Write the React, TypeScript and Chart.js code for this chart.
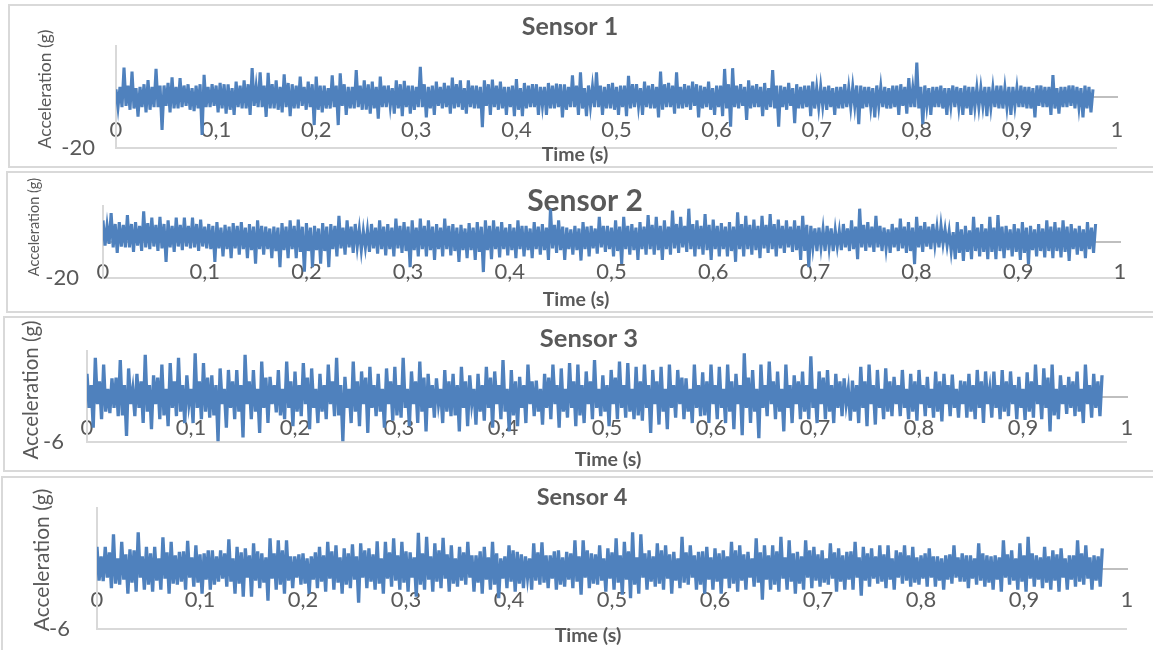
import { useEffect, useRef } from "react";
import { Chart, registerables } from "chart.js";

Chart.register(...registerables);

// ---------------- data ----------------
// Each cycle of SAMPLE_STEP*4 seconds: peak, core low, core high, trough.
const SAMPLE_STEP = 0.002; // seconds between plotted samples
const X_MIN = 0;
const X_MAX = 1;
const X_TICK_STEP = 0.1;

const panelTitles = ["Sensor 1", "Sensor 2", "Sensor 3", "Sensor 4"];
const xAxisTitle = "Time (s)";
const yAxisTitle = "Acceleration (g)";
const yLimits = [20, 20, 6, 6];

// ---- Sensor 1 (g) ----
const sensor1Peaks = [
  3, 11.5, 10, 4, 6.6, 11, 4.5, 7.7, 7.4, 5,
  4.5, 8.7, 5, 5.5, 5, 6, 6.5, 11.3, 9.7, 9.5,
  6.5, 8.9, 5, 8, 6, 8, 4.5, 8.5, 9.3, 4,
  10.6, 6.5, 6, 8, 4.5, 6.5, 6.3, 4.5, 11.8, 4,
  6, 5.5, 7.6, 6.5, 6.5, 4.5, 6.5, 6.8, 6, 4,
  7, 5.5, 5, 4, 5.5, 5.2, 5, 8.5, 9.7, 4.5,
  9.7, 4, 5.5, 4.5, 8.3, 5, 6, 5, 10, 5.5,
  9.7, 5, 6, 4.5, 6, 4.5, 11, 11.3, 5, 6.5,
  5, 5.5, 10.6, 4.5, 5.5, 5, 4.5, 6, 4, 4.5,
  4, 5, 4, 4.5, 4, 4.5, 4, 4.5, 5, 7.4,
  13.5, 4.5, 4, 4.5, 3.5, 4, 4.5, 4, 3.5, 4,
  4.5, 3.5, 4, 4.5, 4, 4.5, 4, 8.6, 4, 4.5,
  4, 4.5, 3,
];
const sensor1CoreLow = [
  -4, -3.5, -4.5, -4, -5, -4, -3.5, -4.5, -4, -5,
  -4.5, -4, -3.5, -4.5, -5, -4, -4.5, -3.5, -4, -4.5,
  -5, -4, -4.5, -3.5, -4, -5, -4.5, -4, -3.5, -4.5,
  -4, -5, -4.5, -4, -3.5, -4.5, -4, -5, -4, -4.5,
  -3.5, -4, -4.5, -5, -4, -4.5, -3.5, -4, -4.5, -4,
  -5, -4.5, -4, -3.5, -4.5, -4, -5, -4, -4.5, -3.5,
  -4, -4.5, -5, -4, -4.5, -3.5, -4, -4.5, -5, -4,
  -4.5, -4, -3.5, -4.5, -5, -4, -4.5, -4, -3.5, -4.5,
  -4, -5, -4.5, -4, -3.5, -4.5, -4, -4.5, -3.5, -4,
  -4.5, -4, -3.5, -4.5, -4, -3.5, -4.5, -4, -3.5, -4,
  -4.5, -3.5, -4, -4.5, -3.5, -4, -4.5, -4, -3.5, -4,
  -4.5, -4, -3.5, -4, -4.5, -3.5, -4, -4.5, -4, -3.5,
  -4, -4.5,
];
const sensor1CoreHigh = [
  4, 4.5, 3.5, 5, 4, 4.5, 5.5, 4, 4.5, 3.5,
  5, 4, 4.5, 5, 3.5, 4.5, 5, 4, 4.5, 5,
  4, 5.5, 4.5, 4, 5, 4.5, 3.5, 4.5, 5, 4,
  4.5, 5, 4, 4.5, 3.5, 5, 4.5, 4, 5, 4.5,
  4, 4.5, 5, 3.5, 4.5, 4, 5, 4.5, 4, 4.5,
  3.5, 4.5, 5, 4, 4.5, 5, 4, 4.5, 3.5, 4,
  4.5, 5, 4, 4.5, 5, 3.5, 4.5, 4, 5, 4.5,
  4, 4.5, 5, 4, 3.5, 4.5, 5, 4.5, 4, 4.5,
  4, 3.5, 4.5, 4, 3.5, 4, 4.5, 3.5, 4, 3.5,
  4, 3.5, 4.5, 4, 3.5, 4, 3.5, 4.5, 4, 3.5,
  4, 3.5, 4, 3.5, 4.5, 3.5, 4, 3.5, 4, 3.5,
  4.5, 4, 3.5, 4, 3.5, 4.5, 4, 3.5, 4, 4.5,
  3.5, 4,
];
const sensor1Troughs = [
  -4, -5, -7.7, -6, -4, -12.9, -6, -4.5, -3.5, -5.5,
  -14.9, -4, -6, -6.5, -7, -4.5, -7, -4, -7.8, -4.5,
  -6, -7.5, -4.5, -5, -11, -6, -4.5, -11, -7, -4.5,
  -5, -6.5, -8.5, -4, -6.5, -7.5, -6.5, -4, -8, -7,
  -4.5, -6.5, -4, -6.5, -4.5, -11.8, -7, -5, -7, -7.5,
  -7.5, -4, -7, -7, -4.5, -8, -4, -7, -7.5, -4,
  -7, -4.5, -7, -7.5, -4, -7, -4.5, -8, -4, -6.5,
  -4.5, -5, -8, -4, -7, -7.5, -11.6, -4.5, -9, -4,
  -7.5, -4, -11.6, -5, -10.3, -4.5, -7.5, -4, -5, -7,
  -4.5, -4, -10.7, -4, -8, -4, -4.5, -7, -6.5, -4,
  -10.7, -7, -4, -7, -4, -7, -7, -4, -7.5, -4,
  -4.5, -7, -4, -4.5, -8, -4, -7, -6.5, -4, -4.5,
  -8, -6,
];

// ---- Sensor 2 (g) ----
const sensor2Peaks = [
  12, 16, 11, 15, 11, 17, 13.5, 14, 12, 13.5,
  13.5, 13.5, 12.5, 10, 11, 9.5, 10.5, 11, 10, 12,
  8.5, 8.5, 10.5, 12, 12.5, 10.5, 9, 10.5, 10, 14.5,
  12, 10, 6, 10, 12, 10, 13, 11, 12, 13,
  12, 10, 13, 10, 9.5, 10.5, 11, 12, 12, 11,
  10, 12, 9, 11, 10, 18.5, 12, 8, 9, 11,
  9, 14, 9, 12, 14, 10, 11, 15, 14, 12,
  17.5, 14, 18.5, 12, 15.5, 12.5, 10.5, 11, 16.5, 14.5,
  12.5, 14.5, 15.5, 12.5, 12, 12, 14.5, 9, 8, 9,
  6.5, 10, 12, 18.5, 11, 14.5, 8, 10, 13, 11,
  14, 11, 10, 9, 6, 11, 9, 14, 10, 14,
  15, 9, 10, 11, 9, 10, 12, 11, 12, 10,
  9, 11, 10,
];
const sensor2CoreLow = [
  -2, -3, -2.5, -3, -2, -3, -2.5, -3.5, -3, -2.5,
  -2.5, -3, -2.5, -4, -3.5, -4, -3.5, -4, -4.5, -4,
  -4, -5, -4.5, -4, -5.5, -5, -4.5, -5, -4, -3.5,
  -3, -2.5, -3, -3.5, -4, -4, -3.5, -5, -4.5, -4,
  -4.5, -4, -4, -5, -4.5, -4.5, -5.5, -4.5, -4, -4,
  -4.5, -4, -4.5, -4, -4.5, -3.5, -4.5, -4, -4.5, -4,
  -3.5, -3, -4, -5, -4, -4.5, -4, -4, -4.5, -4,
  -3.5, -3, -4, -4, -4.5, -4, -4, -5, -4, -4,
  -4.5, -3.5, -4, -3.5, -3, -4.5, -5, -3, -3, -3,
  -2.5, -3, -4, -3, -3, -3, -3.5, -3, -3.5, -5,
  -3, -2.5, -1.5, -1, -5, -6, -5.5, -5, -5.5, -5.5,
  -5, -4.5, -5.5, -6, -4.5, -5, -5, -5, -5.5, -4,
  -5, -4,
];
const sensor2CoreHigh = [
  9, 10, 9.5, 10, 9, 10.5, 9.5, 10, 9, 9.5,
  9, 10, 8.5, 9, 8, 8.5, 9, 8, 8.5, 9,
  7.5, 8, 8.5, 9, 8.5, 8, 7.5, 8.5, 9, 8,
  8.5, 7, 6.5, 8, 8.5, 8, 9, 8.5, 8, 9,
  8.5, 8, 9, 8, 7.5, 8, 8.5, 9, 8.5, 8,
  8, 9, 7.5, 8.5, 8, 9.5, 8.5, 7, 7.5, 8.5,
  7.5, 9, 8, 8.5, 9, 8, 8.5, 9.5, 9, 8.5,
  10, 9, 10, 9, 9.5, 9, 8.5, 8.5, 10, 9.5,
  9, 9.5, 10, 9, 8.5, 9, 9.5, 7.5, 7, 7.5,
  6, 7.5, 8.5, 9.5, 8.5, 9, 7, 8, 8.5, 8,
  9, 8.5, 8, 7, 5.5, 7, 6.5, 8, 7.5, 8,
  8.5, 7, 7.5, 8, 7, 7.5, 8.5, 8, 8.5, 7.5,
  7, 8,
];
const sensor2Troughs = [
  -1, -6, -3, -5.5, -5, -4, -5, -11, -5.5, -4.5,
  -3.5, -5, -3.5, -11, -8, -9, -7, -9, -12, -7,
  -9, -14, -9, -9, -16.5, -14, -12, -14, -8, -7,
  -6, -4.5, -5.5, -6.5, -7.5, -8, -6, -14, -8, -8,
  -10, -8, -7.5, -11, -9, -10, -16.7, -9.5, -8.5, -7.5,
  -9, -8, -9, -7, -10, -6, -10, -7, -10.3, -8,
  -6.5, -5.5, -8, -12.2, -7, -10, -7, -7, -10, -7,
  -6, -5.5, -8, -7, -10, -8, -8, -11, -8, -7,
  -9, -6, -8, -6, -5.5, -10, -14, -5, -5, -5,
  -4.5, -5, -9.5, -5, -5.5, -5, -6, -5, -6, -12.3,
  -5.5, -4, -3, -2, -9.5, -10.5, -9.5, -8, -9.5, -9.5,
  -9, -8, -10, -12.3, -8, -8.5, -9, -8.5, -10.5, -7,
  -9, -6,
];

// ---- Sensor 3 (g) ----
const sensor3Peaks = [
  3, 5.1, 4.2, 2.4, 4.8, 3.7, 3, 5.5, 2.8, 4.2,
  4.4, 5.1, 2.8, 5.7, 4.4, 2.8, 3.7, 3.5, 3.5, 5.5,
  3.5, 4.6, 2.6, 3.5, 4.6, 3.3, 4.4, 3.7, 3, 4.2,
  5.1, 2.6, 4.6, 3.3, 3.9, 3, 3.7, 3.9, 5.1, 3.3,
  4.6, 3, 2.4, 3.5, 3, 3.9, 2.8, 3, 3.9, 3.3,
  4.8, 3.5, 2.6, 4.2, 2.1, 3, 4.2, 3.7, 4.4, 4.2,
  3.3, 4.8, 2.8, 3.5, 4.6, 4.4, 3.9, 4.2, 3.5, 3.9,
  4.2, 3.5, 2.4, 4.2, 3.2, 4.2, 3.9, 4.2, 3, 5.7,
  3.5, 4.2, 4.6, 3.3, 4.2, 2.8, 3.3, 5.3, 3.3, 3.5,
  3, 2.4, 2.1, 3.9, 4.2, 3.5, 3.7, 2.6, 3.5, 3,
  3.5, 2.6, 3.3, 3, 2.9, 2.1, 3, 3.5, 3.3, 3.3,
  3.5, 3.3, 2.6, 3.2, 4.2, 3.7, 4.2, 2.8, 2.6, 3.3,
  4.2, 3, 2.8,
];
const sensor3CoreLow = [
  -1.5, -1, -2, -1.5, -2.5, -1, -1.5, -2, -1, -2.5,
  -1.5, -2, -1, -1.5, -2, -2.5, -1, -1.5, -2, -1,
  -2, -1.5, -1, -2.5, -1.5, -2, -1, -1.5, -2, -1,
  -2.5, -1.5, -2, -1, -1.5, -2, -1, -2.5, -1.5, -1,
  -2, -1.5, -1, -2, -2.5, -1.5, -1, -2, -1.5, -1,
  -2, -2.5, -1.5, -1, -2, -1.5, -1, -2, -1.5, -2.5,
  -1, -1.5, -2, -1, -1.5, -2, -2.5, -1.5, -1, -2,
  -1.5, -1, -2, -1.5, -2.5, -1, -1.5, -2, -1, -1.5,
  -2, -1.5, -1, -2, -1.5, -1, -2, -1.5, -1, -2,
  -1.5, -1, -2, -1.5, -1, -1.5, -2, -1, -1.5, -2,
  -1, -1.5, -2, -1, -1.5, -1, -2, -1.5, -1, -1.5,
  -2, -1, -1.5, -2, -1, -1.5, -2.5, -1, -1.5, -2,
  -1, -1.5,
];
const sensor3CoreHigh = [
  1.5, 2, 1, 2.5, 1.5, 1, 2, 1.5, 2.5, 1,
  2, 1.5, 1, 2, 2.5, 1.5, 1, 2, 1.5, 2,
  1, 2.5, 1.5, 1, 2, 1.5, 2.5, 1, 1.5, 2,
  1.5, 1, 2, 2.5, 1.5, 1, 2, 1.5, 1, 2,
  2.5, 1.5, 1, 2, 1.5, 2, 1, 1.5, 2.5, 1.5,
  1, 2, 1.5, 2, 1, 2.5, 1.5, 1, 2, 1.5,
  2, 1, 1.5, 2.5, 1.5, 1, 2, 1.5, 2, 1,
  1.5, 2.5, 1, 1.5, 2, 1.5, 1, 2, 1.5, 2.5,
  1, 1.5, 2, 1, 1.5, 2, 1.5, 1, 2.5, 1.5,
  2, 1, 1.5, 2, 1.5, 1, 2, 1.5, 1, 2,
  1.5, 1, 2, 1.5, 1, 2, 1.5, 2, 1, 1.5,
  2, 1.5, 1, 2, 1.5, 2.5, 1, 1.5, 2, 1,
  1.5, 2,
];
const sensor3Troughs = [
  -4.1, -3, -2.2, -2.6, -5.2, -2.6, -3.5, -4.3, -3, -3.9,
  -2.6, -3.5, -3.5, -3, -2.8, -5.9, -4.1, -3, -5.4, -3,
  -4.8, -3.5, -2.1, -3, -3.9, -2.6, -4.3, -3.5, -3, -2.6,
  -5.9, -3.5, -3.9, -4.8, -2.6, -4.1, -3.2, -2.8, -3.9, -3.5,
  -4.6, -2.8, -3.5, -2.6, -4.6, -3.9, -3.7, -3.2, -4.1, -3,
  -4.6, -3.9, -3.5, -2.6, -3.7, -3, -4.1, -2.8, -3.9, -3.5,
  -3, -2.6, -3.9, -3, -2.8, -3, -3.2, -4.8, -3.7, -4.3,
  -2.8, -3, -3.5, -2.6, -3.5, -3, -3.5, -4.3, -5.1, -3.5,
  -5.5, -2.6, -3, -4.6, -3.5, -3, -3, -3.5, -3, -3.5,
  -2.6, -3.2, -3.5, -3.9, -3.7, -3, -2.6, -2.6, -3, -3.2,
  -2.6, -2.8, -3.3, -2.6, -2.8, -2.8, -3, -3.5, -2.8, -3,
  -2.6, -3, -3.1, -2.8, -3, -4.6, -3, -2.3, -2.6, -3.5,
  -2.8, -2.6,
];

// ---- Sensor 4 (g) ----
const sensor4Peaks = [
  2.15, 2.15, 3.4, 2.65, 1.9, 3.6, 2.15, 2.15, 3.1, 2.65,
  1.65, 2.75, 2.3, 1.5, 1.8, 1.8, 2.9, 2.15, 2, 2.5,
  1.5, 3, 2.8, 2.8, 1.2, 1.5, 1.2, 2.15, 2.65, 2.3,
  2, 2.4, 2.5, 2, 2.7, 2.65, 3, 2.65, 1.6, 3.55,
  3.15, 2.5, 3.05, 2.3, 2.15, 2.65, 1.3, 2.15, 2.65, 1,
  2.3, 1.65, 1.2, 2.5, 2.6, 1.3, 1.8, 1.65, 2.8, 2.8,
  1.5, 2.3, 2, 3, 2.65, 3.6, 3.4, 1.8, 2.5, 2.3,
  1.65, 3.15, 2.3, 1.65, 2.15, 2, 1.8, 2.65, 2.3, 1.65,
  3, 2.3, 2.3, 3.15, 2.8, 1.65, 2.8, 2.15, 1.8, 2.5,
  2, 1.65, 2.65, 2.15, 2, 2.3, 2.3, 1.8, 2.3, 2.15,
  1.3, 2, 1.2, 1.3, 2.3, 1.5, 1.3, 2.5, 1.3, 1.3,
  2.8, 1.8, 2.5, 3.15, 1.3, 2.15, 1.8, 2, 1.3, 2.8,
  2.3, 1.3, 2,
];
const sensor4CoreLow = [
  -1.2, -0.9, -1.5, -1.1, -1.4, -0.9, -1.6, -1.2, -1, -1.5,
  -1.3, -0.9, -1.4, -1.1, -1.6, -1, -1.3, -1.5, -0.9, -1.2,
  -1.4, -1, -1.6, -1.2, -0.9, -1.5, -1.1, -1.3, -1, -1.4,
  -1.6, -1.1, -0.9, -1.3, -1.5, -1, -1.2, -1.4, -0.9, -1.6,
  -1.1, -1.3, -1, -1.5, -1.2, -0.9, -1.4, -1.1, -1.6, -1,
  -1.3, -1.5, -0.9, -1.2, -1.4, -1, -1.6, -1.1, -1.3, -0.9,
  -1.5, -1.2, -1, -1.4, -1.1, -1.6, -0.9, -1.3, -1.5, -1,
  -1.2, -1.4, -0.9, -1.6, -1.1, -1.3, -1, -1.5, -1.2, -0.9,
  -1.4, -1.1, -1.6, -1, -1.3, -1.5, -0.9, -1.2, -1.4, -1,
  -1.3, -1.1, -0.9, -1.2, -1, -1.3, -1.1, -0.9, -1.2, -1.4,
  -1, -0.9, -1.2, -1.1, -0.9, -1.3, -1, -1.2, -1.4, -1.1,
  -0.9, -1.2, -1.3, -1, -1.1, -1.4, -1.2, -0.9, -1.1, -1.3,
  -1, -1.2,
];
const sensor4CoreHigh = [
  1.2, 1.6, 1, 1.4, 1.8, 1.2, 1.5, 1, 1.6, 1.3,
  1.7, 1.1, 1.4, 1.8, 1.2, 1.5, 1, 1.6, 1.3, 1.7,
  1.1, 1.5, 1.8, 1.2, 1.4, 1, 1.6, 1.3, 1.7, 1.1,
  1.5, 1.2, 1.8, 1.4, 1, 1.6, 1.3, 1.7, 1.1, 1.5,
  1.2, 1.8, 1.4, 1, 1.6, 1.3, 1.7, 1.1, 1.5, 1.2,
  1.8, 1.4, 1, 1.6, 1.3, 1.7, 1.1, 1.5, 1.2, 1.8,
  1.4, 1, 1.6, 1.3, 1.7, 1.1, 1.5, 1.2, 1.8, 1.4,
  1, 1.6, 1.3, 1.7, 1.1, 1.5, 1.2, 1.8, 1.4, 1,
  1.6, 1.3, 1.7, 1.1, 1.5, 1.2, 1.8, 1.4, 1, 1.6,
  1.3, 1.7, 1.1, 1.5, 1.2, 1.4, 1, 1.6, 1.3, 1.1,
  1.5, 1.2, 1, 1.4, 1.1, 1.3, 1, 1.5, 1.2, 1.1,
  1.4, 1, 1.3, 1.5, 1.1, 1.2, 1.4, 1, 1.3, 1.5,
  1.1, 1.2,
];
const sensor4Troughs = [
  -1.25, -1.95, -1.6, -2.5, -2.3, -2.1, -2.3, -2.1, -2.5, -1.6,
  -2.1, -1.8, -2.5, -2.1, -1.3, -1.8, -2.5, -2.8, -2.8, -1.95,
  -3.2, -2.1, -2.5, -1.95, -1.6, -2.5, -1.95, -2.3, -2.1, -2.5,
  -1.95, -3.4, -1.95, -2.1, -2.5, -1.8, -2.1, -2.3, -2.8, -2.1,
  -2.3, -1.95, -2.3, -1.8, -1.6, -2.3, -2.5, -2.1, -2.95, -1.95,
  -2.3, -1.95, -2.1, -1.6, -1.95, -2.1, -1.8, -1.95, -2.6, -1.95,
  -1.6, -2.3, -2.1, -2.6, -2.95, -2.5, -2.1, -1.8, -2.1, -2.5,
  -1.95, -1.6, -2.1, -2.5, -2.1, -2.5, -1.95, -2.3, -2.1, -1.8,
  -3.1, -2.1, -2.3, -2.1, -2.5, -2.1, -1.95, -1.8, -1.6, -2.3,
  -2.1, -2.1, -2.7, -1.8, -1.5, -1.95, -2.1, -1.5, -1.8, -1.6,
  -1.8, -1.8, -2.1, -1.5, -1.3, -1.95, -1.6, -1.8, -2.1, -2.3,
  -1.6, -2.1, -2.3, -1.8, -1.95, -2.1, -2.3, -2.1, -1.8, -1.6,
  -2.1, -1.8,
];

const sensorPeaks = [sensor1Peaks, sensor2Peaks, sensor3Peaks, sensor4Peaks];
const sensorCoreLow = [sensor1CoreLow, sensor2CoreLow, sensor3CoreLow, sensor4CoreLow];
const sensorCoreHigh = [sensor1CoreHigh, sensor2CoreHigh, sensor3CoreHigh, sensor4CoreHigh];
const sensorTroughs = [sensor1Troughs, sensor2Troughs, sensor3Troughs, sensor4Troughs];

// ---------------- styling / layout ----------------
const VIEW_W = 1153;
const VIEW_H = 650;
const LINE_COLOR = "#4f81bd";
const TEXT_COLOR = "#595959";
const AXIS_COLOR = "#d9d9d9";
const ZERO_COLOR = "#bfbfbf";
const FONT = "Lato, 'Open Sans', sans-serif";
const Y_AXIS_WIDTH = 70;
const TICK_FONT_SIZE = 22;
const CANVAS_MARGIN = 55;

type Layout = {
  box: { left: number; top: number; height: number };
  plot: { left: number; right: number; top: number; bottom: number };
  title: { x: number; y: number; size: number };
  xTitle: { x: number; y: number; size: number };
  yTitle: { x: number; y: number; size: number };
  xLabelPad: number;
  yLabelPad: number;
  lineWidth: number;
};

const layouts: Layout[] = [
  {
    box: { left: 8, top: 4, height: 164 },
    plot: { left: 116, right: 1117, top: 46, bottom: 148 },
    title: { x: 570, y: 27, size: 25 },
    xTitle: { x: 575, y: 155, size: 19.5 },
    yTitle: { x: 45, y: 89, size: 17.5 },
    xLabelPad: 20,
    yLabelPad: 21,
    lineWidth: 3.1,
  },
  {
    box: { left: 6, top: 171, height: 142 },
    plot: { left: 103, right: 1120, top: 206, bottom: 278 },
    title: { x: 585, y: 201, size: 30 },
    xTitle: { x: 576, y: 300, size: 19.5 },
    yTitle: { x: 34, y: 227, size: 14.5 },
    xLabelPad: 17,
    yLabelPad: 24,
    lineWidth: 3.1,
  },
  {
    box: { left: 3, top: 316, height: 156 },
    plot: { left: 87, right: 1127, top: 351, bottom: 442 },
    title: { x: 589, y: 339, size: 25.5 },
    xTitle: { x: 608, y: 460, size: 19.5 },
    yTitle: { x: 31, y: 390, size: 20.5 },
    xLabelPad: 18,
    yLabelPad: 23,
    lineWidth: 3.3,
  },
  {
    box: { left: 1, top: 476, height: 184 },
    plot: { left: 97, right: 1127, top: 508, bottom: 629 },
    title: { x: 582, y: 497, size: 23.5 },
    xTitle: { x: 588, y: 636, size: 19.5 },
    yTitle: { x: 42, y: 560, size: 21 },
    xLabelPad: 18,
    yLabelPad: 27,
    lineWidth: 3.3,
  },
];

function buildSeries(peaks: number[], low: number[], high: number[], troughs: number[]) {
  const pts: { x: number; y: number }[] = [];
  let j = 0;
  const push = (y: number) => {
    pts.push({ x: Math.round(j * SAMPLE_STEP * 1000) / 1000, y });
    j++;
  };
  for (let k = 0; k < peaks.length; k++) {
    push(peaks[k]);
    if (k < troughs.length) {
      push(low[k]);
      push(high[k]);
      push(troughs[k]);
    }
  }
  return pts;
}

const panelTextPlugin = {
  id: "panelText",
  beforeDatasetsDraw(chart: any, _args: any, opts: any) {
    const ctx = chart.ctx as CanvasRenderingContext2D;
    ctx.save();
    ctx.fillStyle = TEXT_COLOR;
    ctx.textAlign = "center";
    ctx.textBaseline = "middle";
    ctx.font = `bold ${opts.titleSize}px ${FONT}`;
    ctx.fillText(opts.title, opts.titleX, opts.titleY);
    ctx.font = `bold ${opts.xTitleSize}px ${FONT}`;
    ctx.fillText(opts.xTitle, opts.xTitleX, opts.xTitleY);
    ctx.translate(opts.yTitleX, opts.yTitleY);
    ctx.rotate(-Math.PI / 2);
    ctx.font = `${opts.yTitleSize}px ${FONT}`;
    ctx.fillText(opts.yTitle, 0, 0);
    ctx.restore();
  },
};

function formatTick(v: number) {
  const r = Math.round(v * 10) / 10;
  return String(r).replace(".", ",");
}

function SensorPanel({ index }: { index: number }) {
  const ref = useRef<HTMLCanvasElement | null>(null);
  const lay = layouts[index];
  const cLeft = lay.box.left + 2;
  const cTop = lay.plot.top - CANVAS_MARGIN;
  const cWidth = 1220 - cLeft;
  const cHeight = lay.plot.bottom + CANVAS_MARGIN - cTop;

  useEffect(() => {
    if (!ref.current) return;
    const lim = yLimits[index];
    const chart = new Chart(ref.current, {
      type: "line",
      data: {
        datasets: [
          {
            data: buildSeries(
              sensorPeaks[index],
              sensorCoreLow[index],
              sensorCoreHigh[index],
              sensorTroughs[index]
            ),
            borderColor: LINE_COLOR,
            backgroundColor: LINE_COLOR,
            borderWidth: lay.lineWidth,
            pointRadius: 0,
            fill: false,
            tension: 0,
          },
        ],
      },
      options: {
        responsive: false,
        animation: false,
        events: [],
        layout: {
          padding: {
            left: lay.plot.left - cLeft - Y_AXIS_WIDTH,
            right: cLeft + cWidth - lay.plot.right,
            top: lay.plot.top - cTop,
            bottom: cTop + cHeight - lay.plot.bottom,
          },
        },
        scales: {
          x: {
            type: "linear",
            position: { y: 0 } as any,
            min: X_MIN,
            max: X_MAX,
            grid: { display: false, drawTicks: false },
            border: { display: true, color: ZERO_COLOR, width: 2 },
            ticks: {
              stepSize: X_TICK_STEP,
              autoSkip: false,
              maxRotation: 0,
              padding: lay.xLabelPad,
              color: TEXT_COLOR,
              font: { family: FONT, size: TICK_FONT_SIZE },
              callback: (v: any) => formatTick(Number(v)),
            },
          },
          y: {
            type: "linear",
            position: "left",
            min: -lim,
            max: lim,
            afterFit: (scale: any) => {
              scale.width = Y_AXIS_WIDTH;
            },
            afterBuildTicks: (scale: any) => {
              scale.ticks = [{ value: -lim }];
            },
            grid: { display: true, color: AXIS_COLOR, lineWidth: 2, drawTicks: false },
            border: { display: true, color: AXIS_COLOR, width: 2 },
            ticks: {
              padding: lay.yLabelPad,
              color: TEXT_COLOR,
              font: { family: FONT, size: TICK_FONT_SIZE },
            },
          },
        },
        plugins: {
          legend: { display: false },
          tooltip: { enabled: false },
          title: { display: false },
          panelText: {
            title: panelTitles[index],
            titleX: lay.title.x - cLeft,
            titleY: lay.title.y - cTop,
            titleSize: lay.title.size,
            xTitle: xAxisTitle,
            xTitleX: lay.xTitle.x - cLeft,
            xTitleY: lay.xTitle.y - cTop,
            xTitleSize: lay.xTitle.size,
            yTitle: yAxisTitle,
            yTitleX: lay.yTitle.x - cLeft,
            yTitleY: lay.yTitle.y - cTop,
            yTitleSize: lay.yTitle.size,
          },
        } as any,
      },
      plugins: [panelTextPlugin],
    });
    return () => chart.destroy();
  }, [index]);

  return (
    <>
      <div
        style={{
          position: "absolute",
          left: lay.box.left,
          top: lay.box.top,
          width: 1300,
          height: lay.box.height,
          border: `2px solid ${AXIS_COLOR}`,
          boxSizing: "border-box",
          background: "#fff",
        }}
      />
      <canvas
        ref={ref}
        width={cWidth}
        height={cHeight}
        style={{ position: "absolute", left: cLeft, top: cTop, width: cWidth, height: cHeight }}
      />
    </>
  );
}

export default function App() {
  return (
    <div
      style={{
        position: "fixed",
        left: 0,
        top: 0,
        width: VIEW_W,
        height: VIEW_H,
        overflow: "hidden",
        background: "#fff",
      }}
    >
      {panelTitles.map((_, i) => (
        <SensorPanel key={i} index={i} />
      ))}
    </div>
  );
}
